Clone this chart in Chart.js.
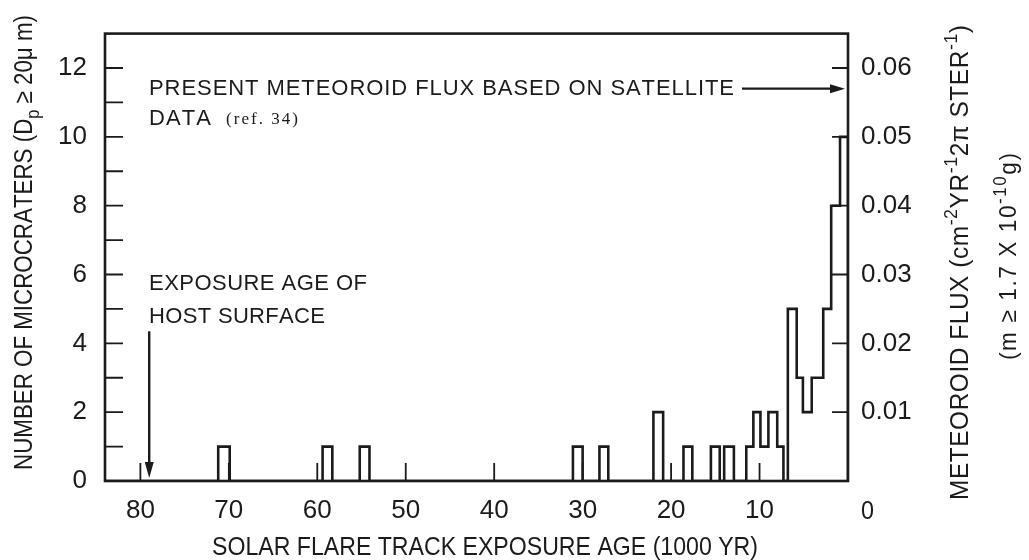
<!DOCTYPE html>
<html>
<head>
<meta charset="utf-8">
<script src="https://cdn.jsdelivr.net/npm/chart.js@4.4.1/dist/chart.umd.min.js"></script>
<style>
  html, body { margin: 0; padding: 0; background: #ffffff; }
  #wrap { width: 1029px; height: 560px; }
</style>
</head>
<body>
<div id="wrap"><canvas id="chart" width="1029" height="560"></canvas></div>
<script>
// Microcrater histogram: each bin runs from an older to a younger
// solar flare track exposure age (1000 yr) and holds a crater count.
const binOld       = [71.2, 59.4, 55.2, 31.1, 28.1, 22.0, 18.6, 15.5, 14.0, 11.5, 10.7, 9.9, 9.0, 8.0, 6.8, 5.8, 5.1, 4.1, 2.8, 1.9, 0.9];
const binYoung     = [69.9, 58.3, 54.1, 30.0, 27.1, 20.9, 17.6, 14.5, 12.9, 10.7, 9.9, 9.0, 8.0, 7.3, 5.8, 5.1, 4.1, 2.8, 1.9, 0.9, 0.0];
const craterCounts = [1, 1, 1, 1, 1, 2, 1, 1, 1, 1, 2, 1, 2, 1, 5, 3, 2, 3, 5, 8, 10];

// Axis ticks
const ageTicks   = [80, 70, 60, 50, 40, 30, 20, 10];
const countTicks = [0, 2, 4, 6, 8, 10, 12];
const fluxTicks  = [0.01, 0.02, 0.03, 0.04, 0.05, 0.06];

// Flux scale: one crater corresponds to this meteoroid flux
const fluxPerCrater = 0.005;
const ageMax = 84;
const countMax = 13;

// Reference markers
const presentFlux = 0.057;      // satellite-based present flux
const hostSurfaceAge = 79;      // exposure age of host surface
const hostArrowTop = 4.35;      // count level where that arrow starts

const INK = '#1b1b1b';
const FONT = "'Liberation Sans',Arial,sans-serif";
const SERIF = "'Liberation Serif','DejaVu Serif',serif";

// Outline of the histogram, traced from the oldest bin to the youngest
const outline = [{ x: ageMax, y: 0 }];
for (let i = 0; i < binOld.length; i++) {
  const joinedBefore = i > 0 && binYoung[i - 1] === binOld[i];
  const joinedAfter = i < binOld.length - 1 && binOld[i + 1] === binYoung[i];
  if (!joinedBefore) outline.push({ x: binOld[i], y: 0 });
  outline.push({ x: binOld[i], y: craterCounts[i] }, { x: binYoung[i], y: craterCounts[i] });
  if (!joinedAfter) outline.push({ x: binYoung[i], y: 0 });
}

// Draws a run of text pieces with even letter spacing, filling a given
// length. Pieces: {t, size, dy, family}. Rotated runs read bottom to top.
function drawRun(ctx, parts, x, y, length, rotated, squeeze = 0.94) {
  const glyphs = [];
  parts.forEach(p => {
    ctx.font = `${p.size}px ${p.family || FONT}`;
    for (const ch of p.t) glyphs.push({ ch, w: ctx.measureText(ch).width, p });
  });
  const natural = glyphs.reduce((s, g) => s + g.w, 0);
  let k = squeeze;
  let gap = (length - k * natural) / Math.max(1, glyphs.length - 1);
  if (gap < 0) { k = length / natural; gap = 0; }
  ctx.save();
  ctx.translate(x, y);
  if (rotated) ctx.rotate(-Math.PI / 2);
  ctx.textBaseline = 'alphabetic';
  ctx.textAlign = 'left';
  let cx = 0;
  glyphs.forEach(g => {
    ctx.save();
    ctx.translate(cx, g.p.dy || 0);
    ctx.scale(k, 1);
    ctx.font = `${g.p.size}px ${g.p.family || FONT}`;
    ctx.fillText(g.ch, 0, 0);
    ctx.restore();
    cx += g.w * k + gap;
  });
  ctx.restore();
}

function arrowHead(ctx, tipX, tipY, dirX, dirY, len, half) {
  const bx = tipX - dirX * len, by = tipY - dirY * len;
  ctx.beginPath();
  ctx.moveTo(tipX, tipY);
  ctx.lineTo(bx - dirY * half, by + dirX * half);
  ctx.lineTo(bx + dirY * half, by - dirX * half);
  ctx.closePath();
  ctx.fill();
}

const framePlugin = {
  id: 'frameAndNotes',
  afterDraw(chart) {
    const { ctx, chartArea: a, scales } = chart;
    const xs = scales.x, ys = scales.y, fs = scales.y2;
    ctx.save();
    ctx.strokeStyle = INK;
    ctx.fillStyle = INK;

    // Frame
    ctx.lineWidth = 2.6;
    ctx.strokeRect(a.left, a.top, a.right - a.left, a.bottom - a.top);

    // Inward ticks
    ctx.lineWidth = 1.8;
    ctx.beginPath();
    for (let v = 1; v < countMax; v++) {
      const py = ys.getPixelForValue(v);
      ctx.moveTo(a.left, py); ctx.lineTo(a.left + 18, py);
    }
    fluxTicks.forEach(v => {
      const py = fs.getPixelForValue(v);
      ctx.moveTo(a.right, py); ctx.lineTo(a.right - 16, py);
    });
    ageTicks.forEach(v => {
      const px = xs.getPixelForValue(v);
      ctx.moveTo(px, a.bottom); ctx.lineTo(px, a.bottom - 18);
    });
    ctx.stroke();

    // Zero of the flux scale, set on the age label row
    drawRun(ctx, [{ t: '0', size: 26 }], a.right + 13, 519, 13);

    // Present flux arrow
    const fy = fs.getPixelForValue(presentFlux);
    ctx.lineWidth = 2.4;
    ctx.beginPath();
    ctx.moveTo(742, fy); ctx.lineTo(a.right - 12, fy);
    ctx.stroke();
    arrowHead(ctx, a.right - 3, fy, 1, 0, 15, 4.5);

    // Host surface exposure age arrow
    const hx = xs.getPixelForValue(hostSurfaceAge);
    const hy = ys.getPixelForValue(hostArrowTop);
    ctx.beginPath();
    ctx.moveTo(hx, hy); ctx.lineTo(hx, a.bottom - 12);
    ctx.stroke();
    arrowHead(ctx, hx, a.bottom - 3, 0, 1, 16, 4.5);

    // Notes
    drawRun(ctx, [{ t: 'PRESENT METEOROID FLUX BASED ON SATELLITE', size: 22 }], 149, 95, 585, false, 1);
    drawRun(ctx, [{ t: 'DATA', size: 22 }], 149, 125, 62, false, 1);
    drawRun(ctx, [{ t: '(ref. 34)', size: 17, family: SERIF }], 226, 124, 72, false, 1);
    drawRun(ctx, [{ t: 'EXPOSURE AGE OF', size: 22 }], 149, 290, 218, false, 1);
    drawRun(ctx, [{ t: 'HOST SURFACE', size: 22 }], 149, 323, 176, false, 1);

    // Axis titles
    drawRun(ctx, [{ t: 'SOLAR FLARE TRACK EXPOSURE AGE (1000 YR)', size: 25 }], 212, 555, 546);
    drawRun(ctx, [
      { t: 'NUMBER OF MICROCRATERS (D', size: 26 },
      { t: 'p', size: 19, dy: 7 },
      { t: ' \u2265 20\u03bc m)', size: 26 }
    ], 32, 470, 455, true);
    drawRun(ctx, [
      { t: 'METEOROID FLUX (cm', size: 26 },
      { t: '-2', size: 19, dy: -11 },
      { t: 'YR', size: 26 },
      { t: '-1', size: 19, dy: -11 },
      { t: '2\u03c0 STER', size: 26 },
      { t: '-1', size: 19, dy: -11 },
      { t: ')', size: 26 }
    ], 968, 500, 475, true);
    drawRun(ctx, [
      { t: '(m \u2265 1.7 X 10', size: 24 },
      { t: '-10', size: 18, dy: -10 },
      { t: 'g)', size: 24 }
    ], 1016, 360, 207, true);

    ctx.restore();
  }
};

const tickFont = { family: FONT, size: 26 };

new Chart(document.getElementById('chart'), {
  type: 'line',
  data: {
    datasets: [{
      data: outline,
      borderColor: INK,
      borderWidth: 2.6,
      pointRadius: 0,
      tension: 0,
      fill: false,
      yAxisID: 'y',
      borderJoinStyle: 'miter'
    }]
  },
  options: {
    responsive: false,
    animation: false,
    devicePixelRatio: 1,
    layout: { padding: { top: 23, left: 0, right: 0, bottom: 0 } },
    plugins: { legend: { display: false }, tooltip: { enabled: false } },
    scales: {
      x: {
        type: 'linear', reverse: true, min: 0, max: ageMax,
        afterBuildTicks: s => { s.ticks = ageTicks.map(v => ({ value: v })); },
        afterFit: s => { s.height = 79; },
        grid: { display: false, drawTicks: false },
        border: { display: false },
        ticks: { font: tickFont, color: INK, padding: 14, maxRotation: 0, autoSkip: false }
      },
      y: {
        position: 'left', min: 0, max: countMax,
        afterBuildTicks: s => { s.ticks = countTicks.map(v => ({ value: v })); },
        afterFit: s => { s.width = 105; },
        grid: { display: false, drawTicks: false },
        border: { display: false },
        ticks: { font: tickFont, color: INK, padding: 18, autoSkip: false }
      },
      y2: {
        position: 'right', min: 0, max: countMax * fluxPerCrater,
        afterBuildTicks: s => { s.ticks = fluxTicks.map(v => ({ value: v })); },
        afterFit: s => { s.width = 181; },
        grid: { display: false, drawTicks: false },
        border: { display: false },
        ticks: { font: tickFont, color: INK, padding: 13, autoSkip: false, callback: v => v.toFixed(2) }
      }
    }
  },
  plugins: [framePlugin]
});
</script>
</body>
</html>
